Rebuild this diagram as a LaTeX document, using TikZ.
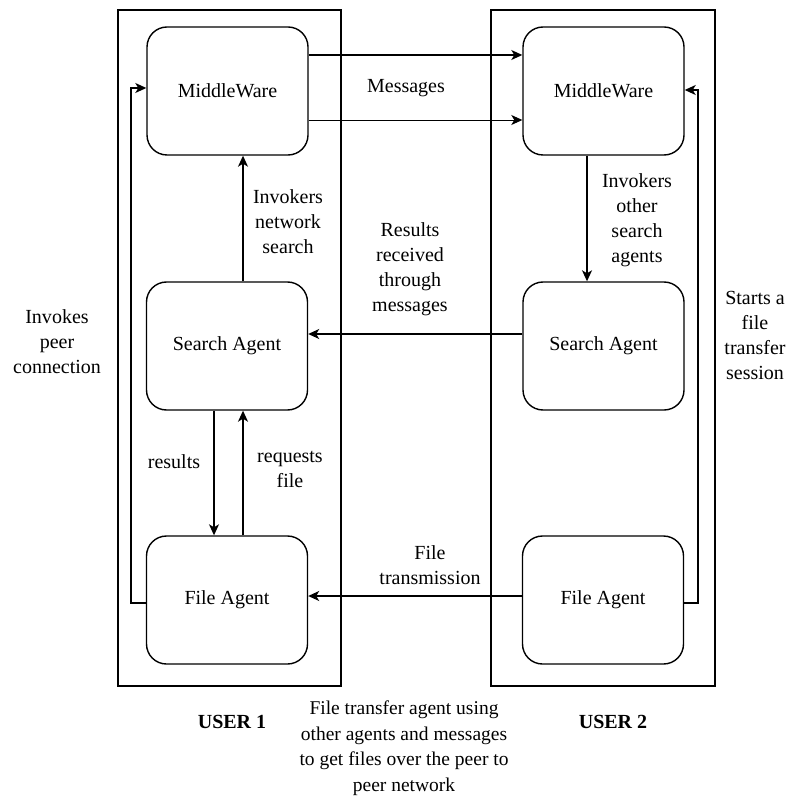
\documentclass[tikz,border=0pt]{standalone}
\usepackage{fontspec}
\setmainfont{Liberation Serif}
\newfontfamily\tnr{Liberation Serif}
\usetikzlibrary{arrows.meta}
\begin{document}
\begin{tikzpicture}[x=1pt,y=-1pt,
  agent/.style={draw,line width=1.4pt,rounded corners=20pt,minimum width=161pt,minimum height=128pt,font=\tnr\fontsize{20}{24}\selectfont,inner sep=0pt},
  userbox/.style={draw,line width=1.3pt},
  conn/.style={line width=1.3pt,-{Stealth[length=11pt,width=10pt,inset=3pt]}},
  lbl/.style={font=\tnr\fontsize{20}{25}\selectfont,align=center,inner sep=0pt}]
\useasboundingbox (0,0) rectangle (789,799);
% user boxes
\draw[userbox] (118,10) rectangle (341,686);
\draw[userbox] (491,10) rectangle (715,686);
% agents
\node[agent] (mw1) at (227.5,91) {MiddleWare};
\node[agent] (mw2) at (603.5,91) {MiddleWare};
\node[agent] (sa1) at (227,346) {Search Agent};
\node[agent] (sa2) at (603.5,346) {Search Agent};
\node[agent] (fa1) at (227,600) {File Agent};
\node[agent] (fa2) at (603,600) {File Agent};
% messages
\draw[conn] (mw1.east |- 0,55) -- (mw2.west |- 0,55);
\draw[conn,line width=0.9pt] (mw1.east |- 0,120) -- (mw2.west |- 0,120);
\node[lbl] (msg) at (406,88) {Messages};
% invokes network search
\draw[conn] (sa1.north -| 243,0) -- (mw1.south -| 243,0);
\node[lbl] (ins) at (288,222) {Invokers\\network\\search};
% invokes other search agents
\draw[conn] (mw2.south -| 587,0) -- (sa2.north -| 587,0);
\node[lbl] (ios) at (637,220) {Invokers\\other\\search\\agents};
% results received through messages
\draw[conn] (sa2.west |- 0,334) -- (sa1.east |- 0,334);
\node[lbl] (rrm) at (410,269) {Results\\received\\through\\messages};
% results / requests file
\draw[conn] (sa1.south -| 214,0) -- (fa1.north -| 214,0);
\node[lbl] (res) at (174,462) {results};
\draw[conn] (fa1.north -| 243,0) -- (sa1.south -| 243,0);
\node[lbl] (req) at (290,469) {requests\\file};
% file transmission
\draw[conn] (fa2.west |- 0,596) -- (fa1.east |- 0,596);
\node[lbl] (ft) at (430,565) {File\\transmission};
% invokes peer connection
\coordinate (pl1) at (131,603);
\coordinate (pl2) at (131,88);
\draw[conn] (fa1.west |- pl1) -- (pl1) -- (pl2) -- (mw1.west |- pl2);
\node[lbl] (ipc) at (57,342) {Invokes\\peer\\connection};
% starts a file transfer session
\coordinate (pr1) at (698,603);
\coordinate (pr2) at (698,90);
\draw[conn] (fa2.east |- pr1) -- (pr1) -- (pr2) -- (mw2.east |- pr2);
\node[lbl] (sft) at (755,335) {Starts a\\file\\transfer\\session};
% captions
\node[lbl,font=\tnr\fontsize{20}{24}\selectfont\bfseries] (u1) at (232,722) {USER 1};
\node[lbl,font=\tnr\fontsize{20}{24}\selectfont\bfseries] (u2) at (613,722) {USER 2};
\node[lbl,font=\tnr\fontsize{19.5}{25.5}\selectfont] (cap) at (404,748) {File transfer agent using\\other agents and messages\\to get files over the peer to\\peer network};
\end{tikzpicture}
\end{document}
